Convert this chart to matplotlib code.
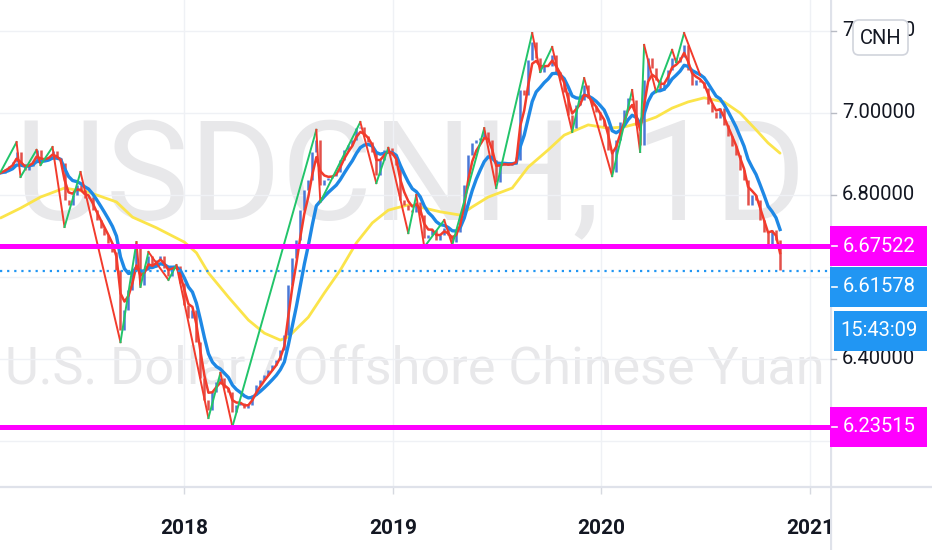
import numpy as np
import pandas as pd
import matplotlib
matplotlib.use("Agg")
import matplotlib.pyplot as plt
from matplotlib.patches import Rectangle, FancyBboxPatch

# ---------------- data ----------------
symbol = "USDCNH, 1D"
description = "U.S. Dollar / Offshore Chinese Yuan"
currency = "CNH"
countdown = "15:43:09"
start_date = "2017-02-13"          # first (weekly) bar

closes = [
    6.854, 6.863, 6.871, 6.880, 6.905, 6.873, 6.861, 6.871, 6.883, 6.910,
    6.885, 6.885, 6.893, 6.907, 6.890, 6.878, 6.788, 6.776, 6.800, 6.824,
    6.812, 6.793, 6.795, 6.763, 6.739, 6.720, 6.702, 6.683, 6.661, 6.617,
    6.471, 6.520, 6.568, 6.617, 6.671, 6.580, 6.617, 6.651, 6.624, 6.641,
    6.651, 6.622, 6.602, 6.624, 6.627, 6.585, 6.532, 6.500, 6.520, 6.441,
    6.354, 6.300, 6.276, 6.320, 6.344, 6.354, 6.329, 6.320, 6.271, 6.288,
    6.293, 6.280, 6.288, 6.312, 6.337, 6.349, 6.361, 6.373, 6.385, 6.398,
    6.422, 6.459, 6.580, 6.646, 6.690, 6.763, 6.812, 6.837, 6.905, 6.934,
    6.824, 6.837, 6.841, 6.846, 6.856, 6.885, 6.910, 6.922, 6.934, 6.963,
    6.966, 6.944, 6.929, 6.905, 6.849, 6.885, 6.910, 6.915, 6.898, 6.873,
    6.788, 6.776, 6.763, 6.759, 6.783, 6.751, 6.695, 6.702, 6.715, 6.690,
    6.702, 6.720, 6.702, 6.685, 6.710, 6.751, 6.824, 6.898, 6.927, 6.934,
    6.939, 6.954, 6.934, 6.885, 6.832, 6.873, 6.878, 6.873, 6.876, 6.885,
    7.056, 7.044, 7.129, 7.173, 7.134, 7.100, 7.115, 7.115, 7.141, 7.100,
    7.080, 7.051, 6.995, 6.963, 7.020, 7.032, 7.068, 7.037, 7.017, 7.002,
    6.983, 6.968, 6.910, 6.856, 6.934, 6.978, 7.007, 7.037, 7.032, 6.971,
    6.922, 7.080, 7.134, 7.110, 7.080, 7.056, 7.071, 7.105, 7.134, 7.124,
    7.137, 7.166, 7.105, 7.068, 7.080, 7.076, 7.061, 7.022, 7.002, 6.988,
    7.012, 6.971, 6.944, 6.920, 6.898, 6.861, 6.837, 6.776, 6.800, 6.788,
    6.739, 6.710, 6.678, 6.715, 6.690, 6.616,
]

# long moving average (yellow), read at selected bars
slow_idx = [0, 5, 10, 16, 22, 29, 33, 39, 46, 49, 52, 57, 62, 66, 70, 72, 77,
            81, 85, 89, 93, 97, 102, 106, 110, 115, 118, 122, 128, 132, 137,
            141, 147, 152, 156, 160, 164, 168, 172, 176, 181, 185, 189, 192, 195]
slow_val = [6.744, 6.768, 6.795, 6.817, 6.807, 6.783, 6.746, 6.720, 6.685,
            6.659, 6.610, 6.551, 6.495, 6.463, 6.446, 6.454, 6.502, 6.561,
            6.617, 6.683, 6.732, 6.763, 6.776, 6.768, 6.759, 6.751, 6.771,
            6.795, 6.817, 6.868, 6.910, 6.946, 6.971, 6.963, 6.966, 6.976,
            6.990, 7.012, 7.027, 7.037, 7.027, 7.000, 6.959, 6.927, 6.902]

# zig-zag swing points
pivot_idx = [0, 4, 5, 9, 10, 13, 16, 20, 30, 34, 35, 37, 42, 44, 52, 55, 58,
             79, 80, 90, 94, 97, 102, 104, 106, 111, 113, 121, 124, 133, 135,
             138, 143, 146, 153, 158, 160, 161, 164, 168, 169, 171, 175]
pivot_val = [6.856, 6.929, 6.844, 6.910, 6.873, 6.917, 6.722, 6.856, 6.441,
             6.685, 6.576, 6.661, 6.593, 6.629, 6.256, 6.366, 6.235, 6.959,
             6.783, 6.978, 6.829, 6.915, 6.707, 6.800, 6.673, 6.739, 6.678,
             6.963, 6.817, 7.195, 7.100, 7.161, 6.954, 7.085, 6.846, 7.056,
             6.905, 7.166, 7.051, 7.154, 7.124, 7.195, 7.093]

levels = [6.67522, 6.23515]
level_labels = ["6.67522", "6.23515"]
last_price = 6.61578
last_label = "6.61578"
grid_ticks = [7.2, 7.0, 6.8, 6.6, 6.4, 6.2]
# scale labels visible around the tags / button (6.60000 is fully covered)
price_ticks = [7.2, 7.0, 6.8, 6.4, 6.2]
price_tick_labels = ["7.20000", "7.00000", "6.80000", "6.40000", "6.20000"]
year_labels = ["2018", "2019", "2020", "2021"]

# ---------------- styling ----------------
plt.rcParams["font.family"] = ["Roboto", "DejaVu Sans"]
W, H = 932, 550
PANE_W, PANE_H = 830, 487
PX_PER_UNIT = 410.0
YTOP = 7.2756
YBOT = YTOP - PANE_H / PX_PER_UNIT

C_RED = "#f23b2c"
C_BLUE = "#1e88e5"
C_GREEN = "#22c46a"
C_YEL = "#fbe44a"
C_MAG = "#ff00ff"
C_GRID = "#eff1f5"
C_TXT = "#131722"
C_UP = "#4a78d6"
C_DN = "#e2504a"
C_WM = "#e8e8ea"

fig = plt.figure(figsize=(W / 100, H / 100), dpi=100)
fig.patch.set_facecolor("white")
ax = fig.add_axes([0, (H - PANE_H) / H, PANE_W / W, PANE_H / H])

c = pd.Series(closes, dtype=float)
o = c.shift(1).fillna(c.iloc[0])
dates = pd.date_range(start_date, periods=len(c), freq="7D")
x = np.array(dates.to_pydatetime())

# watermark
ax.text(0.494, 1 - 220 / PANE_H, symbol, transform=ax.transAxes, ha="center",
        va="baseline", fontsize=101, color=C_WM, zorder=0, clip_on=True)
ax.text(0.5, 1 - 384 / PANE_H, description, transform=ax.transAxes, ha="center",
        va="baseline", fontsize=37.5, color=C_WM, zorder=0, clip_on=True)

# long MA
ax.plot(x[slow_idx], slow_val, color=C_YEL, lw=2.0, zorder=2,
        solid_capstyle="round")

# candles (bodies)
up = (c >= o).values
ax.vlines(x[up], o[up], c[up], color=C_UP, lw=1.8, zorder=3)
ax.vlines(x[~up], o[~up], c[~up], color=C_DN, lw=1.8, zorder=3)

# short MAs
ema_fast = c.ewm(span=3, adjust=False).mean()
ema_slow = c.ewm(span=8, adjust=False).mean()
ax.plot(x, ema_slow, color=C_BLUE, lw=2.4, zorder=4)
ax.plot(x, ema_fast, color=C_RED, lw=1.8, zorder=5)

# zig-zag
for k in range(len(pivot_idx) - 1):
    i0, i1 = pivot_idx[k], pivot_idx[k + 1]
    v0, v1 = pivot_val[k], pivot_val[k + 1]
    col = C_GREEN if v1 > v0 else C_RED
    ax.plot([x[i0], x[i1]], [v0, v1], color=col, lw=1.4, zorder=6)

# horizontal levels
for lv in levels:
    ax.axhline(lv, color=C_MAG, lw=3.6, zorder=7)
ax.axhline(last_price, color="#2196f3", lw=1.6, ls=(0, (1, 2.2)), zorder=7)

# axes cosmetics
x0 = dates[0] - pd.Timedelta(days=1)
x1 = dates[0] + pd.Timedelta(days=7 * PANE_W / 4.0)
ax.set_xlim(x0, x1)
ax.set_ylim(YBOT, YTOP)
ax.set_yticks(grid_ticks)
ax.set_yticklabels([])
ax.tick_params(axis="y", length=0)
ax.set_xticks([pd.Timestamp(f"{y}-01-01") for y in year_labels])
ax.set_xticklabels(year_labels, fontsize=15, fontweight="bold", color=C_TXT)
ax.tick_params(axis="x", length=5, width=1, color="#d6d9e0", pad=18)
ax.grid(True, color=C_GRID, lw=1.0, zorder=1)
ax.set_axisbelow(True)
for s in ["top", "right", "left"]:
    ax.spines[s].set_visible(False)
ax.spines["bottom"].set_color("#dfe2ea")
ax.spines["bottom"].set_linewidth(1.6)

# ---------------- price scale panel ----------------
PW = W - PANE_W
ax2 = fig.add_axes([PANE_W / W, 0, PW / W, 1])
ax2.set_zorder(5)
ax2.set_facecolor("white")
ax2.set_xlim(0, PW)
ax2.set_ylim(YTOP - H / PX_PER_UNIT, YTOP)
ax2.set_xticks([])
ax2.set_yticks([])
for s in ax2.spines.values():
    s.set_visible(False)
ax2.axvline(0.5, color="#dfe2ea", lw=1.6)
ax2.axhline(YBOT, color="#dfe2ea", lw=1.6)


def px2p(py):
    return YTOP - py / PX_PER_UNIT


LBL_X = 48.5
FS = 14.5
for p, lab in zip(price_ticks, price_tick_labels):
    ax2.text(LBL_X, p, lab, ha="center", va="center", fontsize=FS, color=C_TXT, zorder=2)
for p in grid_ticks:
    ax2.plot([1, 6], [p, p], color="#b8bbc4", lw=1, zorder=2)

half = 20 / PX_PER_UNIT


def tag(center, text, color, x_left=0, dash=True):
    ax2.add_patch(Rectangle((x_left, center - half), 97 - x_left, 2 * half,
                            facecolor=color, edgecolor="none", zorder=4))
    ax2.text(LBL_X + 1, center, text, ha="center", va="center", fontsize=FS,
             color="white", zorder=5)
    if dash:
        ax2.plot([2, 7], [center, center], color="white", lw=1.2, zorder=5)


tag(levels[0], level_labels[0], C_MAG)
tag(levels[1], level_labels[1], C_MAG)
tag(px2p(287), last_label, "#2196f3")
tag(px2p(330.5), countdown, "#2196f3", x_left=4, dash=False)

# currency button
btn = FancyBboxPatch((23, px2p(55)), 55, px2p(20) - px2p(55),
                     boxstyle="round,pad=0,rounding_size=6",
                     mutation_aspect=1 / PX_PER_UNIT,
                     facecolor="white", edgecolor="#d1d4dc", lw=1.2, zorder=6)
ax2.add_patch(btn)
ax2.text(50.5, px2p(38), currency, ha="center", va="center", fontsize=FS,
         color=C_TXT, zorder=7)

fig.savefig("out.png", dpi=100, facecolor="white")
